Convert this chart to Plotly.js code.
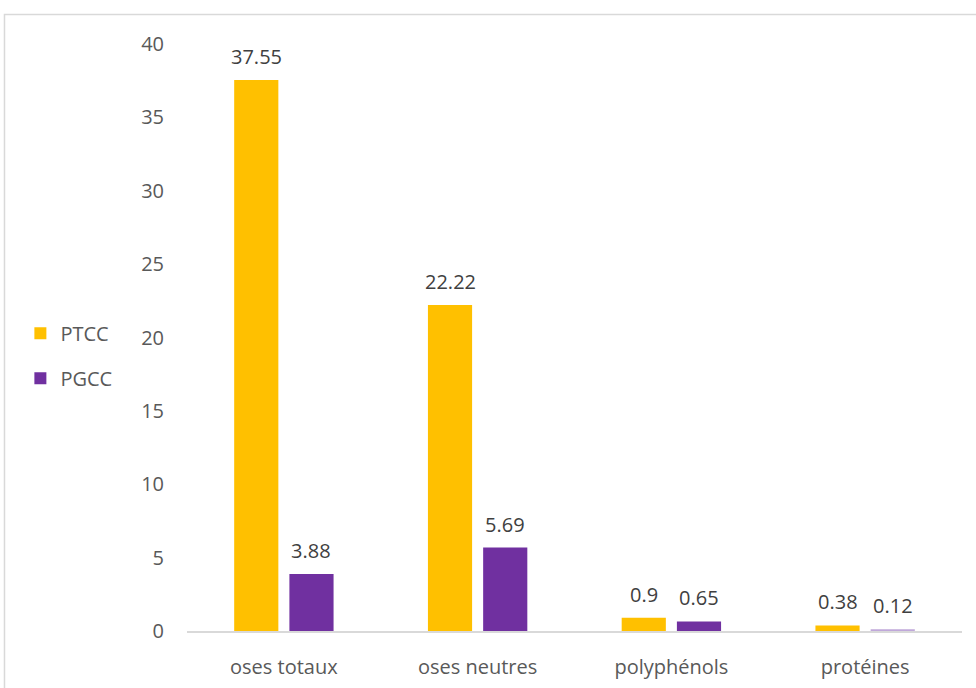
<!DOCTYPE html>
<html>
<head>
<meta charset="utf-8">
<script src="https://cdn.plot.ly/plotly-3.0.1.min.js"></script>
<style>
  html, body { margin: 0; padding: 0; background: #fff; }
  #chart { width: 976px; height: 688px; }
</style>
</head>
<body>
<div id="chart"></div>
<script>
// Composition of the two extracts (values per category)
const categories = ['oses totaux', 'oses neutres', 'polyphénols', 'protéines'];
const ptccValues = [37.55, 22.22, 0.9, 0.38];
const pgccValues = [3.88, 5.69, 0.65, 0.12];
const yTicks = [0, 5, 10, 15, 20, 25, 30, 35, 40];

const ORANGE = '#FFC000';
const PURPLE = '#7030A0';
const PURPLE_LIGHT = '#C0A8DA';
const TEXT = '#595959';
const FONT = 'Open Sans, Liberation Sans, sans-serif';
const FS = 20;

const traces = [
  {
    type: 'bar', name: 'PTCC', legendgroup: 'a',
    x: categories, y: ptccValues,
    marker: { color: ORANGE }, hoverinfo: 'x+y'
  },
  {
    type: 'bar', name: 'PGCC', legendgroup: 'b',
    x: categories, y: pgccValues,
    marker: { color: pgccValues.map((v, i) => i === pgccValues.length - 1 ? PURPLE_LIGHT : PURPLE) },
    hoverinfo: 'x+y'
  }
];

// Value labels above each bar, shifted to the bar's slot in its group
const GROUP_SHIFT = 27.5;
function valueLabels(values, shift) {
  return values.map((v, i) => ({
    x: i, y: v, xref: 'x', yref: 'y',
    text: String(v), showarrow: false,
    xanchor: 'center', yanchor: 'bottom',
    xshift: shift, yshift: 8,
    font: { family: FONT, size: FS, color: '#404040' }
  }));
}

const layout = {
  width: 976, height: 688,
  margin: { l: 187, r: 14, t: 44, b: 57 },
  paper_bgcolor: '#fff', plot_bgcolor: '#fff',
  barmode: 'group', bargap: 0.43, bargroupgap: 0.2,
  font: { family: FONT, color: TEXT, size: FS },
  showlegend: true,
  legend: {
    x: -0.215, xanchor: 'left', y: 0.469, yanchor: 'middle',
    tracegroupgap: 16, itemwidth: 30,
    font: { family: FONT, size: FS, color: TEXT },
    bgcolor: 'rgba(0,0,0,0)'
  },
  xaxis: {
    type: 'category', showgrid: false, zeroline: false,
    showline: true, linecolor: '#D9D9D9', linewidth: 1.5,
    ticks: '', ticklabelstandoff: 17,
    tickfont: { family: FONT, size: FS, color: TEXT }
  },
  yaxis: {
    range: [0, 40], tickvals: yTicks, showgrid: false, zeroline: false,
    showline: false, ticks: '', ticklabelstandoff: 22,
    tickfont: { family: FONT, size: FS, color: TEXT }
  },
  annotations: valueLabels(ptccValues, -GROUP_SHIFT).concat(valueLabels(pgccValues, GROUP_SHIFT)),
  shapes: [
    {
      type: 'rect', xref: 'paper', yref: 'paper',
      x0: -0.2355, x1: 1.2, y0: -0.3, y1: 1.0503,
      line: { color: '#D9D9D9', width: 1.5 }, fillcolor: 'rgba(0,0,0,0)', layer: 'below'
    }
  ]
};

Plotly.newPlot('chart', traces, layout, { displayModeBar: false, staticPlot: true });
</script>
</body>
</html>
